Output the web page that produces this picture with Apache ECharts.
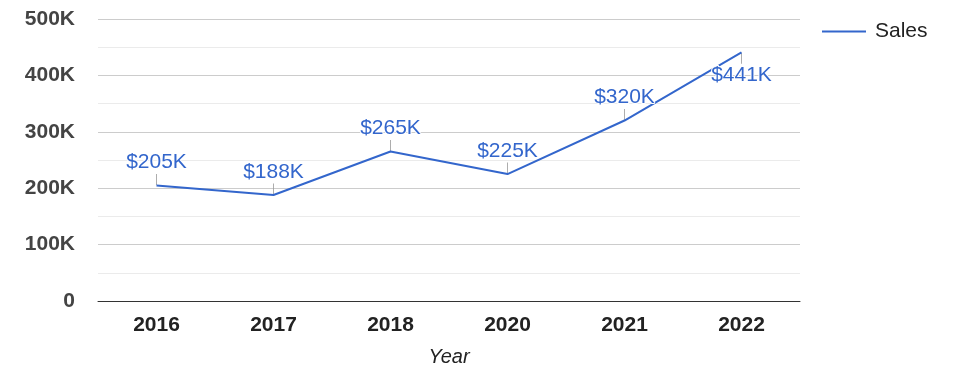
<!DOCTYPE html>
<html><head><meta charset="utf-8">
<script src="https://cdn.jsdelivr.net/npm/echarts@6/dist/echarts.min.js"></script>
<style>html,body{margin:0;padding:0;background:#fff}#c{width:975px;height:378px}</style>
</head><body><div id="c"></div>
<script>
const categories = ['2016','2017','2018','2020','2021','2022'];
const sales = [205000, 188000, 265000, 225000, 320000, 441000];
const yTicks = [0, 100000, 200000, 300000, 400000, 500000];
const labelBelow = [false, false, false, false, false, true];

const FONT = 'Arial, "Liberation Sans", sans-serif';
const chart = echarts.init(document.getElementById('c'), null, {renderer:'canvas'});
const lineData = sales.map((v,i)=>({
  value: v,
  label: {position: labelBelow[i] ? 'bottom' : 'top'}
}));
const leaderData = sales.map((v,i)=>({
  value: v,
  symbolOffset: [0, labelBelow[i] ? 6 : -6]
}));
chart.setOption({
  animation:false,
  textStyle:{fontFamily:FONT},
  grid:{left:98, right:175, top:19, bottom:77},
  legend:{
    left:817, top:16, icon:'rect', itemWidth:44, itemHeight:2,
    data:[{name:'Sales', itemStyle:{color:'#3366cc', opacity:1}}],
    itemStyle:{color:'#3366cc', opacity:1},
    textStyle:{fontSize:21, color:'#222', fontFamily:FONT, padding:[0,0,0,4]}
  },
  xAxis:{
    type:'category', data:categories, boundaryGap:true,
    axisTick:{show:false},
    axisLine:{lineStyle:{color:'#333', width:1}},
    axisLabel:{fontSize:21, fontWeight:'bold', color:'#222', margin:14, fontFamily:FONT},
    name:'Year', nameLocation:'middle', nameGap:46,
    nameTextStyle:{fontSize:20, fontStyle:'italic', color:'#222', fontFamily:FONT}
  },
  yAxis:{
    type:'value', min:yTicks[0], max:yTicks[yTicks.length-1], interval:yTicks[1]-yTicks[0],
    axisLine:{show:false}, axisTick:{show:false},
    axisLabel:{fontSize:21, fontWeight:'bold', color:'#444', margin:23, fontFamily:FONT,
      formatter:v=> v===0 ? '0' : (v/1000)+'K'},
    splitLine:{lineStyle:{color:'#cccccc'}},
    minorTick:{show:false, splitNumber:2},
    minorSplitLine:{show:true, lineStyle:{color:'#ebebeb'}}
  },
  series:[
    {
      name:'Sales', type:'line', data:lineData, showSymbol:true, symbol:'circle', symbolSize:1,
      lineStyle:{color:'#3366cc', width:2}, itemStyle:{color:'rgba(0,0,0,0)'},
      label:{show:true, distance:12, fontSize:21, color:'#3366cc', fontFamily:FONT,
        textBorderColor:'#ffffff', textBorderWidth:2,
        formatter:p=>'$'+Math.round(p.value/1000)+'K'},
      z:3
    },
    {
      name:'leader', type:'scatter', data:leaderData, symbol:'rect', symbolSize:[1,11],
      itemStyle:{color:'#999999'}, silent:true, z:2
    }
  ]
});
</script></body></html>
